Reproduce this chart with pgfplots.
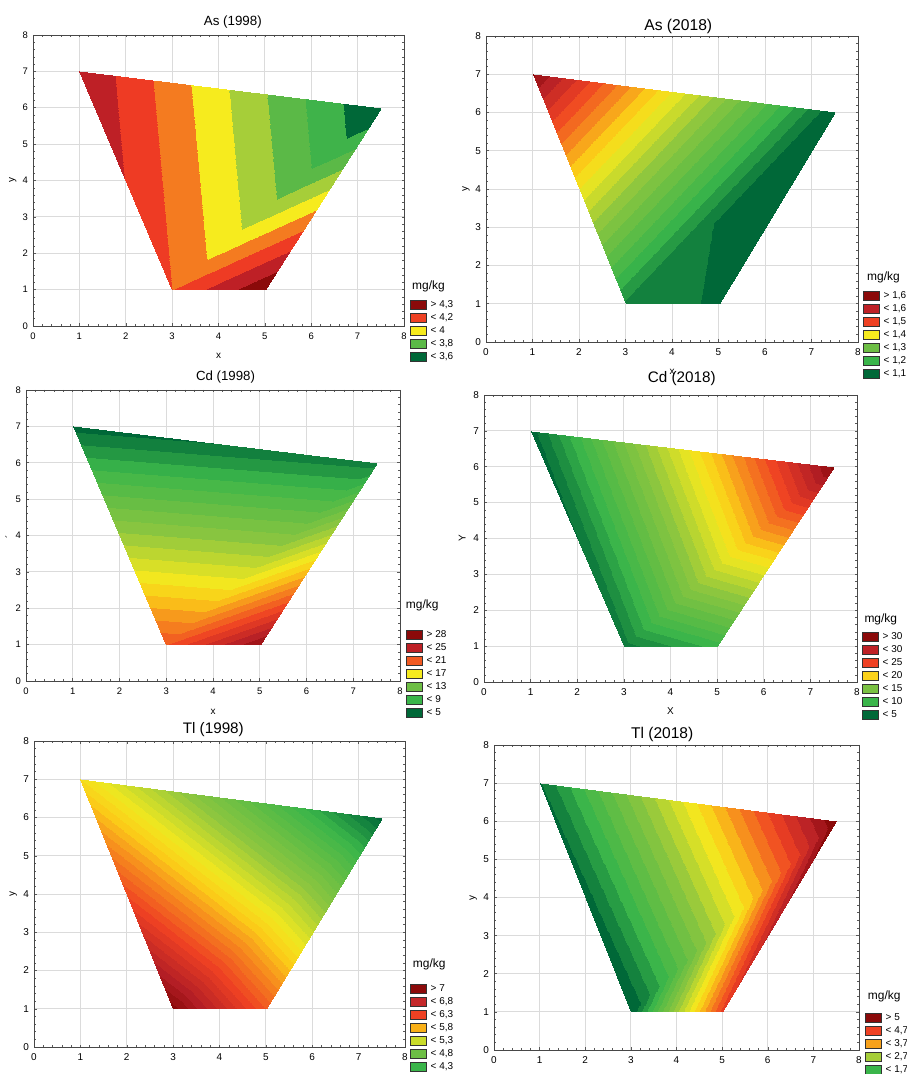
\documentclass[border=0pt]{standalone}
\usepackage{fontspec}
\setmainfont{Liberation Sans}
\usepackage{pgfplots}
\pgfplotsset{compat=1.18}

% legend colours
\definecolor{cDK}{HTML}{8B0A0A}
\definecolor{cDR}{HTML}{BE2026}
\definecolor{cDR2}{HTML}{C4282A}
\definecolor{cRD}{HTML}{EF4123}
\definecolor{cRO}{HTML}{F15A22}
\definecolor{cOR}{HTML}{F7A11B}
\definecolor{cYO}{HTML}{FCD21B}
\definecolor{cOY}{HTML}{F9B017}
\definecolor{cYE}{HTML}{F6EB1E}
\definecolor{cYG}{HTML}{C9DB2A}
\definecolor{cYG2}{HTML}{A6CE39}
\definecolor{cLG}{HTML}{6DBE45}
\definecolor{cLG2}{HTML}{7AC143}
\definecolor{cG1}{HTML}{5BB947}
\definecolor{cGR}{HTML}{3AB54A}
\definecolor{cDG}{HTML}{006838}

% colormaps: one colour per contour band (piecewise constant access)
\pgfplotsset{
 colormap={p1}{rgb255=(0,104,56) rgb255=(63,179,74) rgb255=(91,185,71) rgb255=(166,206,57)
   rgb255=(246,235,30) rgb255=(244,123,32) rgb255=(238,59,36) rgb255=(190,32,38)
   rgb255=(139,10,10)},
 colormap={stat}{rgb255(0pt)=(0,104,56) rgb255(14pt)=(58,181,74) rgb255(36pt)=(141,198,63)
   rgb255(52pt)=(242,232,31) rgb255(59pt)=(251,203,24) rgb255(66pt)=(247,148,29)
   rgb255(79pt)=(239,65,35) rgb255(92pt)=(181,31,38) rgb255(100pt)=(139,10,10)},
 colormap={p2}{samples of colormap=(23 of stat)},
 colormap={p3}{samples of colormap=(24 of stat)},
 colormap={p4}{samples of colormap=(29 of stat)},
 colormap={p5}{samples of colormap=(40 of stat)},
 colormap={p6}{samples of colormap=(22 of stat)},
}

\pgfplotsset{
 panel/.style={
   scale only axis, anchor=south west,
   xmin=0, xmax=8, ymin=0, ymax=8,
   xtick={0,1,...,8}, ytick={0,1,...,8},
   minor x tick num=4, minor y tick num=4,
   grid=major, major grid style={draw=black!14, line width=0.9bp},
   axis line style={draw=black!72, line width=0.9bp},
   tick align=inside, major tick length=2.5bp, minor tick length=1.6bp,
   tick style={draw=black!65, line width=0.5bp},
   /pgf/number format/assume math mode=true,
   ticklabel style={font=\fontsize{10}{10}\selectfont},
   xticklabel style={yshift=-3bp},
   yticklabel style={xshift=-1.5bp},
   colormap access=piecewise constant,
   legend cell align=left,
   legend image code/.code={\draw[##1,draw=black!80,line width=0.7bp] (0bp,-4.6bp) rectangle (16bp,4.6bp);},
   legend style={draw=none, fill=none, inner sep=0pt, outer sep=0pt,
     row sep=3.1bp, column sep=4bp, anchor=north west,
     font=\fontsize{10}{10}\selectfont,
     nodes={inner sep=0pt, text height=7.4bp, text depth=2.1bp}},
 },
 quad/.style={patch, shader=interp, forget plot, point meta=explicit},
}

\begin{document}
\begin{tikzpicture}
\useasboundingbox (0,0) rectangle (907bp,1074bp);
\clip (0,0) rectangle (907bp,1074bp);

% ---------------- As (1998)
\begin{axis}[panel, at={(33bp,748bp)}, width=371bp, height=291bp,
  colormap name=p1, point meta min=3.5, point meta max=4.4,
  ticklabel style={font=\fontsize{9.5}{10}\selectfont},
  legend style={at={(axis description cs:1.0162,0.0907)}}]
\addplot[quad] table[meta=v] {
x y v
1 7 4.295
3 1 4.10
7.5 6 3.50
3 1 4.10
5 1 4.39
7.5 6 3.50
};
\addlegendimage{fill=cDK}\addlegendentry{> 4,3}
\addlegendimage{fill=cRD}\addlegendentry{< 4,2}
\addlegendimage{fill=cYE}\addlegendentry{< 4}
\addlegendimage{fill=cG1}\addlegendentry{< 3,8}
\addlegendimage{fill=cDG}\addlegendentry{< 3,6}
\end{axis}

% ---------------- As (2018)
\begin{axis}[panel, at={(486bp,732bp)}, width=372bp, height=306bp,
  colormap name=p2, point meta min=1.05, point meta max=1.625,
  legend style={at={(axis description cs:1.0134,0.1658)}}]
\addplot[quad] table[meta=v] {
x y v
1 7 1.605
3 1 1.093
7.5 6 1.050
3 1 1.093
5 1 1.0705
7.5 6 1.050
};
\addlegendimage{fill=cDK}\addlegendentry{> 1,6}
\addlegendimage{fill=cDR}\addlegendentry{< 1,6}
\addlegendimage{fill=cRD}\addlegendentry{< 1,5}
\addlegendimage{fill=cYE}\addlegendentry{< 1,4}
\addlegendimage{fill=cLG}\addlegendentry{< 1,3}
\addlegendimage{fill=cGR}\addlegendentry{< 1,2}
\addlegendimage{fill=cDG}\addlegendentry{< 1,1}
\end{axis}

% ---------------- Cd (1998)
\begin{axis}[panel, at={(26bp,393bp)}, width=374bp, height=291bp,
  colormap name=p3, point meta min=4, point meta max=28,
  ticklabel style={font=\fontsize{9.5}{10}\selectfont},
  legend style={at={(axis description cs:1.0160,0.1744)}}]
\addplot[quad] table[meta=v] {
x y v
1 7 4.5
3 1 22.0
7.5 6 5.56
3 1 22.0
5 1 27.07
7.5 6 5.56
};
\addlegendimage{fill=cDK}\addlegendentry{> 28}
\addlegendimage{fill=cDR}\addlegendentry{< 25}
\addlegendimage{fill=cRO}\addlegendentry{< 21}
\addlegendimage{fill=cYE}\addlegendentry{< 17}
\addlegendimage{fill=cLG}\addlegendentry{< 13}
\addlegendimage{fill=cGR}\addlegendentry{< 9}
\addlegendimage{fill=cDG}\addlegendentry{< 5}
\end{axis}

% ---------------- Cd (2018)
\begin{axis}[panel, at={(484bp,392bp)}, width=373bp, height=287bp,
  colormap name=p4, point meta min=2, point meta max=31,
  legend style={at={(axis description cs:1.0134,0.1746)}}]
\addplot[quad] table[meta=v] {
x y v
1 7 2.5
3 1 3.5
7.5 6 30.4
3 1 3.5
5 1 6.5
7.5 6 30.4
};
\addlegendimage{fill=cDK}\addlegendentry{> 30}
\addlegendimage{fill=cDR}\addlegendentry{< 30}
\addlegendimage{fill=cRD}\addlegendentry{< 25}
\addlegendimage{fill=cYO}\addlegendentry{< 20}
\addlegendimage{fill=cLG2}\addlegendentry{< 15}
\addlegendimage{fill=cGR}\addlegendentry{< 10}
\addlegendimage{fill=cDG}\addlegendentry{< 5}
\end{axis}

% ---------------- Tl (1998)
\begin{axis}[panel, at={(34bp,27bp)}, width=371bp, height=306bp,
  colormap name=p5, point meta min=3.6, point meta max=7.2,
  legend style={at={(axis description cs:1.0135,0.2074)}}]
\addplot[quad] table[meta=v] {
x y v
1 7 5.58
3 1 7.16
7.5 6 3.64
3 1 7.16
5 1 6.30
7.5 6 3.64
};
\addlegendimage{fill=cDK}\addlegendentry{> 7}
\addlegendimage{fill=cDR2}\addlegendentry{< 6,8}
\addlegendimage{fill=cRD}\addlegendentry{< 6,3}
\addlegendimage{fill=cOY}\addlegendentry{< 5,8}
\addlegendimage{fill=cYG}\addlegendentry{< 5,3}
\addlegendimage{fill=cLG}\addlegendentry{< 4,8}
\addlegendimage{fill=cGR}\addlegendentry{< 4,3}
\addlegendimage{fill=cDG}\addlegendentry{< 3,8}
\end{axis}

% ---------------- Tl (2018)
\begin{axis}[panel, at={(494bp,24bp)}, width=365bp, height=305bp,
  colormap name=p6, point meta min=0.5, point meta max=5.296,
  legend style={at={(axis description cs:1.0164,0.1216)}}]
\addplot[quad] table[meta=v] {
x y v
1 7 0.70
3 1 0.50
7.5 6 5.27
3 1 0.50
5 1 4.29
7.5 6 5.27
};
\addlegendimage{fill=cDK}\addlegendentry{> 5}
\addlegendimage{fill=cRD}\addlegendentry{< 4,7}
\addlegendimage{fill=cOR}\addlegendentry{< 3,7}
\addlegendimage{fill=cYG2}\addlegendentry{< 2,7}
\addlegendimage{fill=cGR}\addlegendentry{< 1,7}
\end{axis}

% ---------------- titles
\node[font=\fontsize{13.4}{14}\selectfont] at (232.8bp,1052bp) {As (1998)};
\node[font=\fontsize{15.7}{16}\selectfont] at (678.3bp,1048bp) {As (2018)};
\node[font=\fontsize{13.3}{14}\selectfont] at (225.5bp,697bp) {Cd (1998)};
\node[font=\fontsize{15.3}{16}\selectfont] at (681.8bp,695bp) {Cd (2018)};
\node[font=\fontsize{15.3}{16}\selectfont] at (213.3bp,344bp) {Tl (1998)};
\node[font=\fontsize{15.6}{16}\selectfont] at (662.2bp,340bp) {Tl (2018)};

% ---------------- axis labels
\begin{scope}[every node/.style={font=\fontsize{10}{10}\selectfont}]
\node at (218.5bp,718bp) {x};
\node[rotate=90] at (12.7bp,893.5bp) {y};
\node at (672bp,702bp) {x};
\node[rotate=90] at (466bp,885bp) {y};
\node at (213bp,362.3bp) {x};
\node[rotate=90] at (9.3bp,537.3bp) {´};
\node at (670.5bp,363bp) {X};
\node[rotate=90] at (462.3bp,535.7bp) {Y};
\node[rotate=90] at (13.3bp,180bp) {y};
\node[rotate=90] at (473.3bp,176bp) {y};
\end{scope}

% ---------------- legend headings
\begin{scope}[every node/.style={font=\fontsize{12}{12}\selectfont, anchor=west, inner sep=0pt}]
\node at (412bp,788bp) {mg/kg};
\node at (867bp,796.7bp) {mg/kg};
\node at (405.7bp,469bp) {mg/kg};
\node at (864.3bp,454.7bp) {mg/kg};
\node at (412.7bp,109.7bp) {mg/kg};
\node at (867.7bp,77.3bp) {mg/kg};
\end{scope}
\end{tikzpicture}
\end{document}
